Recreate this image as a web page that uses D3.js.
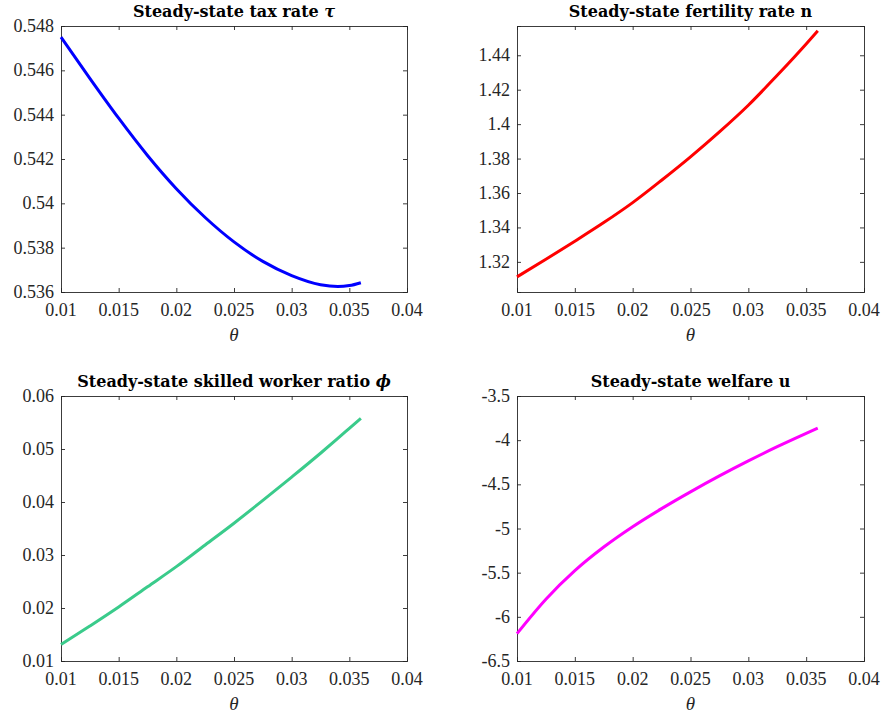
<!DOCTYPE html>
<html>
<head>
<meta charset="utf-8">
<script src="https://cdn.jsdelivr.net/npm/d3@7"></script>
<style>
  body { margin: 0; background: #fff; }
  svg { display: block; }
</style>
</head>
<body>
<svg id="chart" width="883" height="714"></svg>
<script>
// values
var theta = [0.010, 0.0125, 0.015, 0.0175, 0.020, 0.0225, 0.025, 0.0275, 0.030, 0.0325, 0.034, 0.035, 0.036];
var tau = [0.5475, 0.54564, 0.54384, 0.54216, 0.54066, 0.53936, 0.53826, 0.53738, 0.53674, 0.53633, 0.53625, 0.53629, 0.53642];
var fertility = [1.3113, 1.3215, 1.3320, 1.3428, 1.3544, 1.3674, 1.3810, 1.3955, 1.4110, 1.4284, 1.4392, 1.4466, 1.4542];
var skilled = [0.0131, 0.0166, 0.0202, 0.0240, 0.0278, 0.0319, 0.0360, 0.0403, 0.0447, 0.0492, 0.0520, 0.0539, 0.0558];
var welfare = [-6.19, -5.80, -5.477, -5.21, -4.98, -4.775, -4.585, -4.405, -4.235, -4.074, -3.982, -3.922, -3.864];

var xTicks = [0.01, 0.015, 0.02, 0.025, 0.03, 0.035, 0.04];
var tauTicks = [0.536, 0.538, 0.54, 0.542, 0.544, 0.546, 0.548];
var fertilityTicks = [1.32, 1.34, 1.36, 1.38, 1.4, 1.42, 1.44];
var skilledTicks = [0.01, 0.02, 0.03, 0.04, 0.05, 0.06];
var welfareTicks = [-6.5, -6, -5.5, -5, -4.5, -4, -3.5];

var svg = d3.select('#chart');
var ink = '#262626';
var serif = 'Liberation Serif, DejaVu Serif, serif';
var titleFont = 'DejaVu Serif, Liberation Serif, serif';

var panels = [
  {title: 'Steady-state tax rate ', sym: 'τ', values: tau, ticks: tauTicks,
   ydom: [0.536, 0.548], color: '#0000ff', box: [61, 407, 26, 292]},
  {title: 'Steady-state fertility rate n', values: fertility, ticks: fertilityTicks,
   ydom: [1.3025, 1.457], color: '#ff0000', box: [517, 864, 26, 292]},
  {title: 'Steady-state skilled worker ratio ', sym: 'ϕ', values: skilled, ticks: skilledTicks,
   ydom: [0.01, 0.06], color: '#3acb8b', box: [61, 407, 396, 661]},
  {title: 'Steady-state welfare u', values: welfare, ticks: welfareTicks,
   ydom: [-6.5, -3.5], color: '#ff00ff', box: [517, 864, 396, 661]}
];

function fmt(v) { return String(+v.toFixed(4)); }

panels.forEach(function(p) {
  var b = p.box;
  var x = d3.scaleLinear().domain([0.01, 0.04]).range([b[0], b[1]]);
  var y = d3.scaleLinear().domain(p.ydom).range([b[3], b[2]]);
  var g = svg.append('g');

  // box with inward ticks on all sides
  var axes = [
    d3.axisBottom(x).tickValues(xTicks).tickSize(-4).tickFormat(''),
    d3.axisTop(x).tickValues(xTicks).tickSize(-4).tickFormat(''),
    d3.axisLeft(y).tickValues(p.ticks).tickSize(-4).tickFormat(''),
    d3.axisRight(y).tickValues(p.ticks).tickSize(-4).tickFormat('')
  ];
  var shifts = [[0, b[3]], [0, b[2]], [b[0], 0], [b[1], 0]];
  axes.forEach(function(ax, i) {
    var a = g.append('g')
      .attr('transform', 'translate(' + shifts[i][0] + ',' + shifts[i][1] + ')')
      .call(ax);
    a.selectAll('path').attr('stroke', ink).attr('stroke-width', 0.9);
    a.selectAll('line').attr('stroke', ink).attr('stroke-width', 0.9);
    a.selectAll('text').remove();
  });

  // tick labels
  g.selectAll('text.xt')
    .data(xTicks)
    .enter().append('text')
      .attr('x', function(d) { return x(d); })
      .attr('y', b[3] + 24)
      .attr('text-anchor', 'middle')
      .attr('font-family', serif)
      .attr('font-size', 18)
      .attr('fill', ink)
      .text(fmt);

  g.selectAll('text.yt')
    .data(p.ticks)
    .enter().append('text')
      .attr('x', b[0] - 7)
      .attr('y', function(d) { return y(d) + 6; })
      .attr('text-anchor', 'end')
      .attr('font-family', serif)
      .attr('font-size', 18)
      .attr('fill', ink)
      .text(fmt);

  // x label
  g.append('text')
    .attr('x', (b[0] + b[1]) / 2)
    .attr('y', b[3] + 49)
    .attr('text-anchor', 'middle')
    .attr('font-family', serif)
    .attr('font-size', 19)
    .attr('font-style', 'italic')
    .attr('fill', ink)
    .text('θ');

  // title
  var t = g.append('text')
    .attr('x', (b[0] + b[1]) / 2)
    .attr('y', b[2] - 9)
    .attr('text-anchor', 'middle')
    .attr('font-family', titleFont)
    .attr('font-size', 16)
    .attr('font-weight', 'bold')
    .attr('fill', '#000');
  t.append('tspan').text(p.title);
  if (p.sym) t.append('tspan').attr('font-style', 'italic').text(p.sym);

  // curve
  var line = d3.line()
    .x(function(d, i) { return x(theta[i]); })
    .y(function(d) { return y(d); })
    .curve(d3.curveMonotoneX);

  g.append('path')
    .datum(p.values)
    .attr('d', line)
    .attr('fill', 'none')
    .attr('stroke', p.color)
    .attr('stroke-width', 3);
});
</script>
</body>
</html>
